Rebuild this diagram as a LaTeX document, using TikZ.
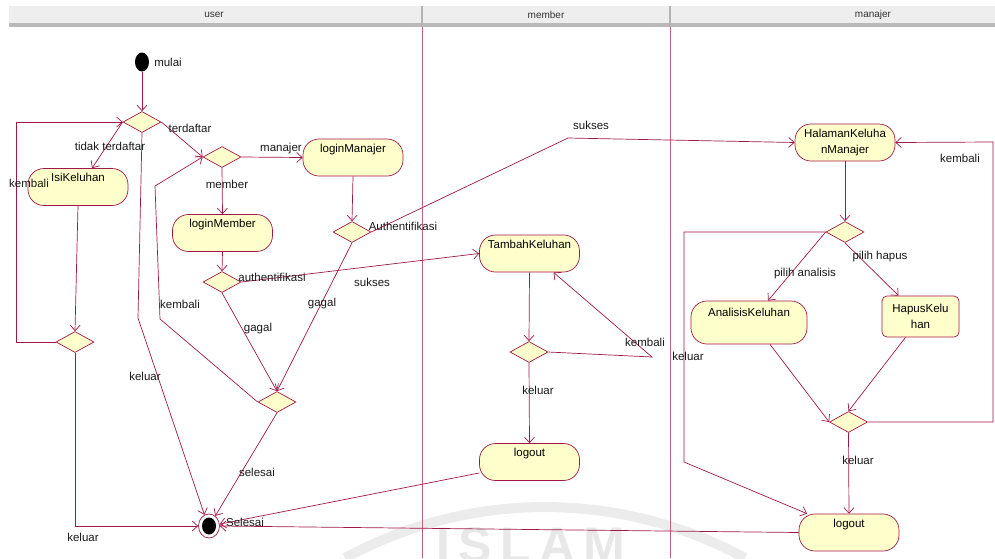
\documentclass[tikz,border=0pt]{standalone}
\usepackage{fontspec}
\setmainfont{Liberation Sans}
\usepackage{xcolor}
\usetikzlibrary{arrows.meta,shapes.geometric}

\definecolor{umlred}{RGB}{160,24,72}
\definecolor{lanered}{RGB}{196,96,128}
\definecolor{umlfill}{RGB}{255,255,204}
\definecolor{hdrgray}{RGB}{238,238,238}

\begin{document}
\begin{tikzpicture}[x=1pt,y=-1pt,
    font=\fontsize{11.5}{13}\selectfont,
    box/.style={draw=umlred, fill=umlfill, line width=0.7pt, inner sep=2pt},
    act/.style={box, rectangle, rounded corners=16pt, minimum width=100pt,
      minimum height=37pt, text height=8pt, text depth=19pt},
    choice/.style={diamond, draw=umlred, fill=umlfill, line width=0.7pt,
      minimum width=38pt, minimum height=21pt, inner sep=0pt},
    flow/.style={->, draw=umlred, line width=0.7pt},
    lbl/.style={text=black!90, inner sep=0pt},
    lanehead/.style={font=\fontsize{10}{12}\selectfont, text=black!80, inner sep=0pt},
    >={Straight Barb[length=5.5pt,width=10pt]}]
  \useasboundingbox (0,0) rectangle (995,558);

  % watermark
  \draw[gray!15, line width=10pt] (345,558) arc[start angle=-118.6, end angle=-61.4, radius=417.7];
  \node[text=gray!18, font=\fontsize{50}{54}\selectfont\bfseries, anchor=base west, inner sep=0pt]
    (wm) at (436,562) {I\,S\,L\,A\,M};

  % swimlanes
  \fill[hdrgray] (9,6) rectangle (995,23);
  \fill[gray!55] (9,23) rectangle (995,27);
  \foreach \x in {422,670} {
    \draw[gray!60, line width=1.5pt] (\x,6) -- (\x,27);
    \draw[lanered, line width=0.8pt] (\x,27) -- (\x,558);
  }
  \foreach \n/\t/\x in {huser/user/214, hmember/member/546, hmanajer/manajer/873}
    \node[lanehead] (\n) at (\x,15) {\t};

  % user
  \node[ellipse, fill=black, minimum width=14pt, minimum height=19pt, inner sep=0pt] (start) at (142,62) {};
  \node[choice] (d1) at (142,122) {};
  \node[choice] (d2) at (222,157) {};
  \node[act] (isi) at (78,187) {IsiKeluhan};
  \node[act] (lm) at (353,157.5) {loginManajer};
  \node[act] (lmb) at (222.5,233) {loginMember};
  \node[choice] (d3) at (352,232) {};
  \node[choice] (d4) at (222,282) {};
  \node[choice] (d5) at (75,342) {};
  \node[choice] (d6) at (277,402) {};
  \node[ellipse, draw=umlred, fill=white, line width=0.7pt, minimum width=21pt, minimum height=24pt,
    inner sep=0pt] (finish) at (209,526) {};
  \node[ellipse, fill=black, minimum width=14pt, minimum height=17pt, inner sep=0pt] (finishdot) at (finish) {};

  % member
  \node[act] (tambah) at (529.5,253.5) {TambahKeluhan};
  \node[choice] (d7) at (529,352) {};
  \node[act] (lom) at (529.5,462) {logout};

  % manajer
  \node[box, rectangle, rounded corners=16pt, minimum width=100pt, minimum height=37pt, align=center,
    font=\fontsize{11.5}{16}\selectfont] (halaman) at (845,142.5) {HalamanKeluha\\nManajer};
  \node[choice] (d8) at (845,232) {};
  \node[act, minimum width=116pt, minimum height=43pt, text depth=21pt] (analisis) at (749,322.5) {AnalisisKeluhan};
  \node[box, rectangle, rounded corners=5pt, minimum width=77pt, minimum height=41pt, align=center,
    font=\fontsize{11.5}{16}\selectfont] (hapus) at (920.5,316.5) {HapusKelu\\han};
  \node[choice] (d9) at (848.5,422) {};
  \node[act] (lomg) at (849,532.5) {logout};

  % flows
  \draw[flow] (start) -- (d1);
  \draw[flow] (d1.east) -- (d2.west);
  \draw[flow] (d1.west) -- ([xshift=14pt]isi.north);
  \draw[flow] (d5.west) -| (16,122) -- (d1.west);
  \draw[flow] (isi.south) -- (d5.north);
  \draw[flow] (d5.south) |- (finish.west);
  \draw[flow] (d1.south) -- (138,318) -- (finish.112);
  \draw[flow] (d2.east) -- (lm.west);
  \draw[flow] (d2.south) -- (lmb.north);
  \draw[flow] (lm.south) -- (d3.north);
  \draw[flow] (lmb.south) -- (d4.north);
  \draw[flow] (d4.east) -- (tambah.west);
  \draw[flow] (d3.east) -- (568,138) -- (halaman.west);
  \draw[flow] (d3.south) -- (d6.north);
  \draw[flow] (d4.south) -- (d6.north);
  \draw[flow] (d6.west) -- (160,319) -- (155,186) -- (d2.west);
  \draw[flow] (d6.south) -- (finish.58);
  \draw[flow] (tambah.south) -- (d7.north);
  \draw[flow] (d7.east) -- (652,357) -- ([xshift=24pt]tambah.south);
  \draw[flow] (d7.south) -- (lom.north);
  \draw[flow] ([yshift=-11pt]lom.west) -- (finish.10);
  \draw[flow] (lomg.west) -- (finish.east);
  \draw[flow] (halaman.south) -- (d8.north);
  \draw[flow] (d8.west) -- ([xshift=19pt]analisis.north);
  \draw[flow] (d8.south) -- ([xshift=-22pt]hapus.north);
  \draw[flow] (d8.west) -- (684,232) -- (684,462) -- ([xshift=-42pt]lomg.north);
  \draw[flow] ([xshift=21pt]analisis.south) -- (d9.west);
  \draw[flow] ([xshift=-15pt]hapus.south) -- (d9.north);
  \draw[flow] (d9.east) -| (993,142) -- (halaman.east);
  \draw[flow] (d9.south) -- (lomg.north);

  % labels
  \foreach \i/\t/\x/\y in {1/mulai/168/62, 2/terdaftar/190/128, 3/tidak terdaftar/110/146,
      4/kembali/29/183, 5/manajer/281/149, 6/member/227/184, 7/Authentifikasi/403/226,
      8/authentifikasi/272/277, 9/sukses/372/282, 10/gagal/322/304, 11/kembali/180/304,
      12/gagal/258/329, 13/keluar/145/376, 14/selesai/257/472, 15/Selesai/245/522,
      16/keluar/83/537, 17/sukses/591/125, 18/kembali/645/342, 19/keluar/538/390,
      20/keluar/688/356, 21/kembali/960/158, 22/pilih hapus/880/257,
      23/pilih analisis/805/274, 24/keluar/858/460}
    \node[lbl] (l\i) at (\x,\y) {\t};
\end{tikzpicture}
\end{document}
